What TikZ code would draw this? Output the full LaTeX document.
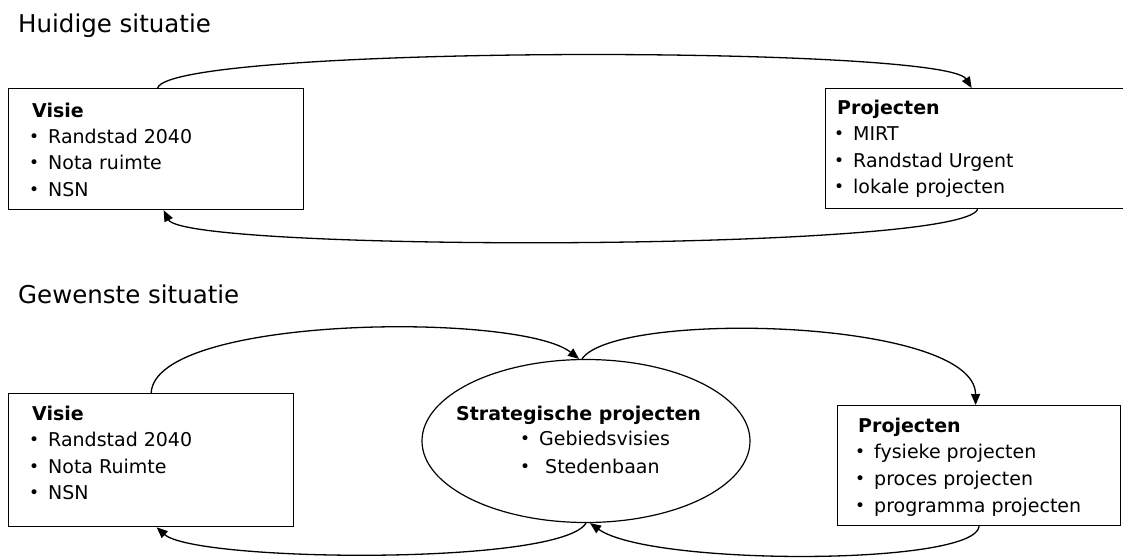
\documentclass[tikz,border=0pt]{standalone}
\usepackage{fontspec}
\setmainfont{DejaVu Sans}
\usetikzlibrary{arrows.meta,shapes.geometric}
\newcommand{\bul}[1]{\makebox[19pt][l]{\raisebox{0.8pt}{\fontsize{17}{17}\selectfont •}}#1}
\tikzset{
  box/.style={draw=black, line width=1.3pt, rectangle, inner sep=0pt, anchor=north west, fill=white},
  ell/.style={draw=black, line width=1.2pt, ellipse, inner sep=0pt},
  ln/.style={anchor=base west, inner sep=0pt, font=\fontsize{19}{23}\selectfont},
  hd/.style={anchor=base west, inner sep=0pt, font=\fontsize{19}{23}\selectfont\bfseries},
  ttl/.style={anchor=base west, inner sep=0pt, font=\fontsize{24.5}{28}\selectfont},
  conn/.style={draw=black, line width=1.3pt, -{Triangle[length=11pt,width=9pt]}}
}
\begin{document}
\begin{tikzpicture}[x=1pt,y=-1pt]
\useasboundingbox (0,0) rectangle (1123,557);
% titles
\node[ttl] (t1) at (18,32) {Huidige situatie};
\node[ttl] (t2) at (18,303) {Gewenste situatie};
% top boxes
\node[box, minimum width=295pt, minimum height=121pt] (v1) at (8,88) {};
\node[box, minimum width=310pt, minimum height=120pt] (p1) at (825,88) {};
% bottom boxes
\node[box, minimum width=285pt, minimum height=133pt] (v2) at (8,393) {};
\node[box, minimum width=283pt, minimum height=120pt] (p2) at (837,405) {};
\node[ell, minimum width=328pt, minimum height=163pt] (sp) at (586,441) {};
% texts top
\node[hd] (v1h) at (32,117) {Visie};
\node[ln] (v1a) at (29,143) {\bul{Randstad 2040}};
\node[ln] (v1b) at (29,169) {\bul{Nota ruimte}};
\node[ln] (v1c) at (29,196) {\bul{NSN}};
\node[hd] (p1h) at (837,114) {Projecten};
\node[ln] (p1a) at (834,140) {\bul{MIRT}};
\node[ln] (p1b) at (834,167) {\bul{Randstad Urgent}};
\node[ln] (p1c) at (834,193) {\bul{lokale projecten}};
% texts bottom
\node[hd] (v2h) at (32,420) {Visie};
\node[ln] (v2a) at (29,446) {\bul{Randstad 2040}};
\node[ln] (v2b) at (29,473) {\bul{Nota Ruimte}};
\node[ln] (v2c) at (29,499) {\bul{NSN}};
\node[hd] (sph) at (456,420) {Strategische projecten};
\node[ln] (spa) at (520,445) {\bul{Gebiedsvisies}};
\node[ln] (spb) at (520,473) {\bul{\hspace{6pt}Stedenbaan}};
\node[hd] (p2h) at (858,432) {Projecten};
\node[ln] (p2a) at (855,458) {\bul{fysieke projecten}};
\node[ln] (p2b) at (855,485) {\bul{proces projecten}};
\node[ln] (p2c) at (855,512) {\bul{programma projecten}};
% connectors top
\draw[conn] ([xshift=1.5pt]v1.north) .. controls (170,45) and (945,45) .. ([xshift=-9pt]p1.north);
\draw[conn] ([xshift=-3pt]p1.south) .. controls (960,252) and (185,252) .. ([xshift=7.5pt]v1.south);
% connectors bottom
\draw[conn] (v2.north) .. controls (155,315) and (520,312) .. ([xshift=-7pt]sp.north);
\draw[conn] ([xshift=-4pt]sp.north) .. controls (615,310) and (975,318) .. ([xshift=-3.5pt]p2.north);
\draw[conn] (p2.south) .. controls (975,566) and (650,566) .. ([xshift=4pt]sp.south);
\draw[conn] (sp.south) .. controls (560,566) and (195,562) .. ([xshift=5.5pt]v2.south);
\end{tikzpicture}
\end{document}
